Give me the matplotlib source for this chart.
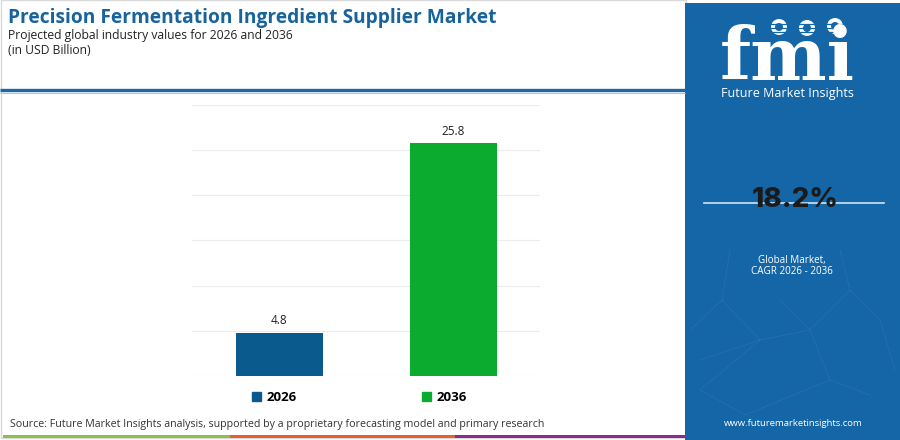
import matplotlib
matplotlib.use("Agg")
import matplotlib.pyplot as plt
from matplotlib.patches import Rectangle, Circle, Patch

# data
years = ["2026", "2036"]
values = [4.8, 25.8]
bar_colors = ["#0b5a8e", "#0aab2e"]
cagr = "18.2%"
title = "Precision Fermentation Ingredient Supplier Market"
subtitle = "Projected global industry values for 2026 and 2036"
unit = "(in USD Billion)"
source = "Source: Future Market Insights analysis, supported by a proprietary forecasting model and primary research"

panel_blue = "#1566a7"
font = "Open Sans"

fig = plt.figure(figsize=(9, 4.4), dpi=100)
fig.patch.set_facecolor("white")

# overlay in pixel coords for the page decoration
deco = fig.add_axes([0, 0, 1, 1], zorder=0)
deco.set_xlim(0, 900)
deco.set_ylim(440, 0)
deco.axis("off")

deco.add_patch(Rectangle((0.5, 0.5), 685, 438, fill=False, ec="#d9d9d9", lw=1))
deco.plot([0, 685], [90.5, 90.5], color="#1a6aa8", lw=2.4, solid_capstyle="butt")
deco.plot([0, 685], [93.5, 93.5], color="#9fcdeb", lw=0.8, solid_capstyle="butt")

# bottom coloured strip
for x0, x1, c in [(3, 230, "#8bc34a"), (230, 455, "#e4632d"), (455, 685, "#8d2a8f")]:
    deco.add_patch(Rectangle((x0, 435.5), x1 - x0, 3, color=c, lw=0))

deco.text(8, 18, title, fontsize=13.8, fontweight="bold", color="#17639b",
          family=font, va="center", ha="left")
deco.text(8, 35, subtitle, fontsize=8.7, color="#222222", family=font, va="center")
deco.text(8, 51, unit, fontsize=8.7, color="#222222", family=font, va="center")
deco.text(10, 424, source, fontsize=7.7, color="#333333", family=font, va="center")

# right panel
deco.add_patch(Rectangle((685, 3), 215, 437, color=panel_blue, lw=0))

# faint network pattern in the lower half of the panel
net = [(730, 250, 722, 300), (722, 300, 760, 340), (760, 340, 700, 360), (760, 340, 810, 330),
       (810, 330, 850, 290), (850, 290, 880, 320), (810, 330, 830, 380), (830, 380, 870, 395),
       (700, 390, 760, 340), (700, 390, 745, 415), (780, 300, 810, 330), (840, 250, 850, 290),
       (880, 320, 895, 370), (745, 415, 830, 380), (690, 330, 722, 300)]
for x0, y0, x1, y1 in net:
    deco.plot([x0, x1], [y0, y1], color="#5b9bd0", lw=0.5, alpha=0.22)

deco.text(787, 80, "fmi", fontsize=52, fontweight="bold", family="DejaVu Serif",
          color="white", ha="center", va="baseline")
for yy in range(24, 84, 4):
    deco.plot([715, 860], [yy, yy], color=panel_blue, lw=0.9)
for cx, cy in [(779, 27), (807, 28), (835, 26)]:
    deco.add_patch(Circle((cx, cy), 8, color="white", lw=0))
    deco.add_patch(Circle((cx, cy), 4, color=panel_blue, lw=0))
deco.text(787, 93, "Future Market Insights", fontsize=9, color="white",
          family=font, ha="center", va="center")

deco.plot([704, 884], [203, 203], color="#cfe4f4", lw=1.2)
deco.text(795, 200, cagr, fontsize=20, fontweight="heavy", color="#1a1a1a",
          family="Inter", ha="center", va="center")
deco.text(792, 261, "Global Market,", fontsize=7.1, color="white", family=font,
          ha="center", va="center")
deco.text(792, 272, "CAGR 2026 - 2036", fontsize=7.1, color="white", family=font,
          ha="center", va="center")
deco.text(793, 423, "www.futuremarketinsights.com", fontsize=6.8, color="white",
          family=font, ha="center", va="center")

# chart
ax = fig.add_axes([192 / 900, 1 - 376 / 440, 348 / 900, 271 / 440], zorder=1)
ax.set_facecolor("none")
x = list(range(len(years)))
bars = ax.bar(x, values, width=0.5, color=bar_colors, zorder=2)
for b, v in zip(bars, values):
    ax.text(b.get_x() + b.get_width() / 2, v + 0.6, f"{v}", ha="center", va="bottom",
            fontsize=8.5, color="#222222", family=font)

ax.set_xlim(-0.5, 1.5)
ax.set_ylim(0, 30)
ax.set_yticks(range(0, 31, 5))
ax.grid(axis="y", color="#ececec", lw=0.8, zorder=0)
ax.tick_params(left=False, bottom=False, labelleft=False, labelbottom=False)
for s in ax.spines.values():
    s.set_visible(False)

handles = [Patch(color=c, label=y) for c, y in zip(bar_colors, years)]
leg = ax.legend(handles=handles, ncol=2, loc="upper center", bbox_to_anchor=(0.48, -0.012),
                frameon=False, handlelength=0.7, handleheight=0.7, handletextpad=0.4,
                columnspacing=9.5, prop={"family": font, "weight": "bold", "size": 9.5})

fig.savefig("out.png", dpi=100)
